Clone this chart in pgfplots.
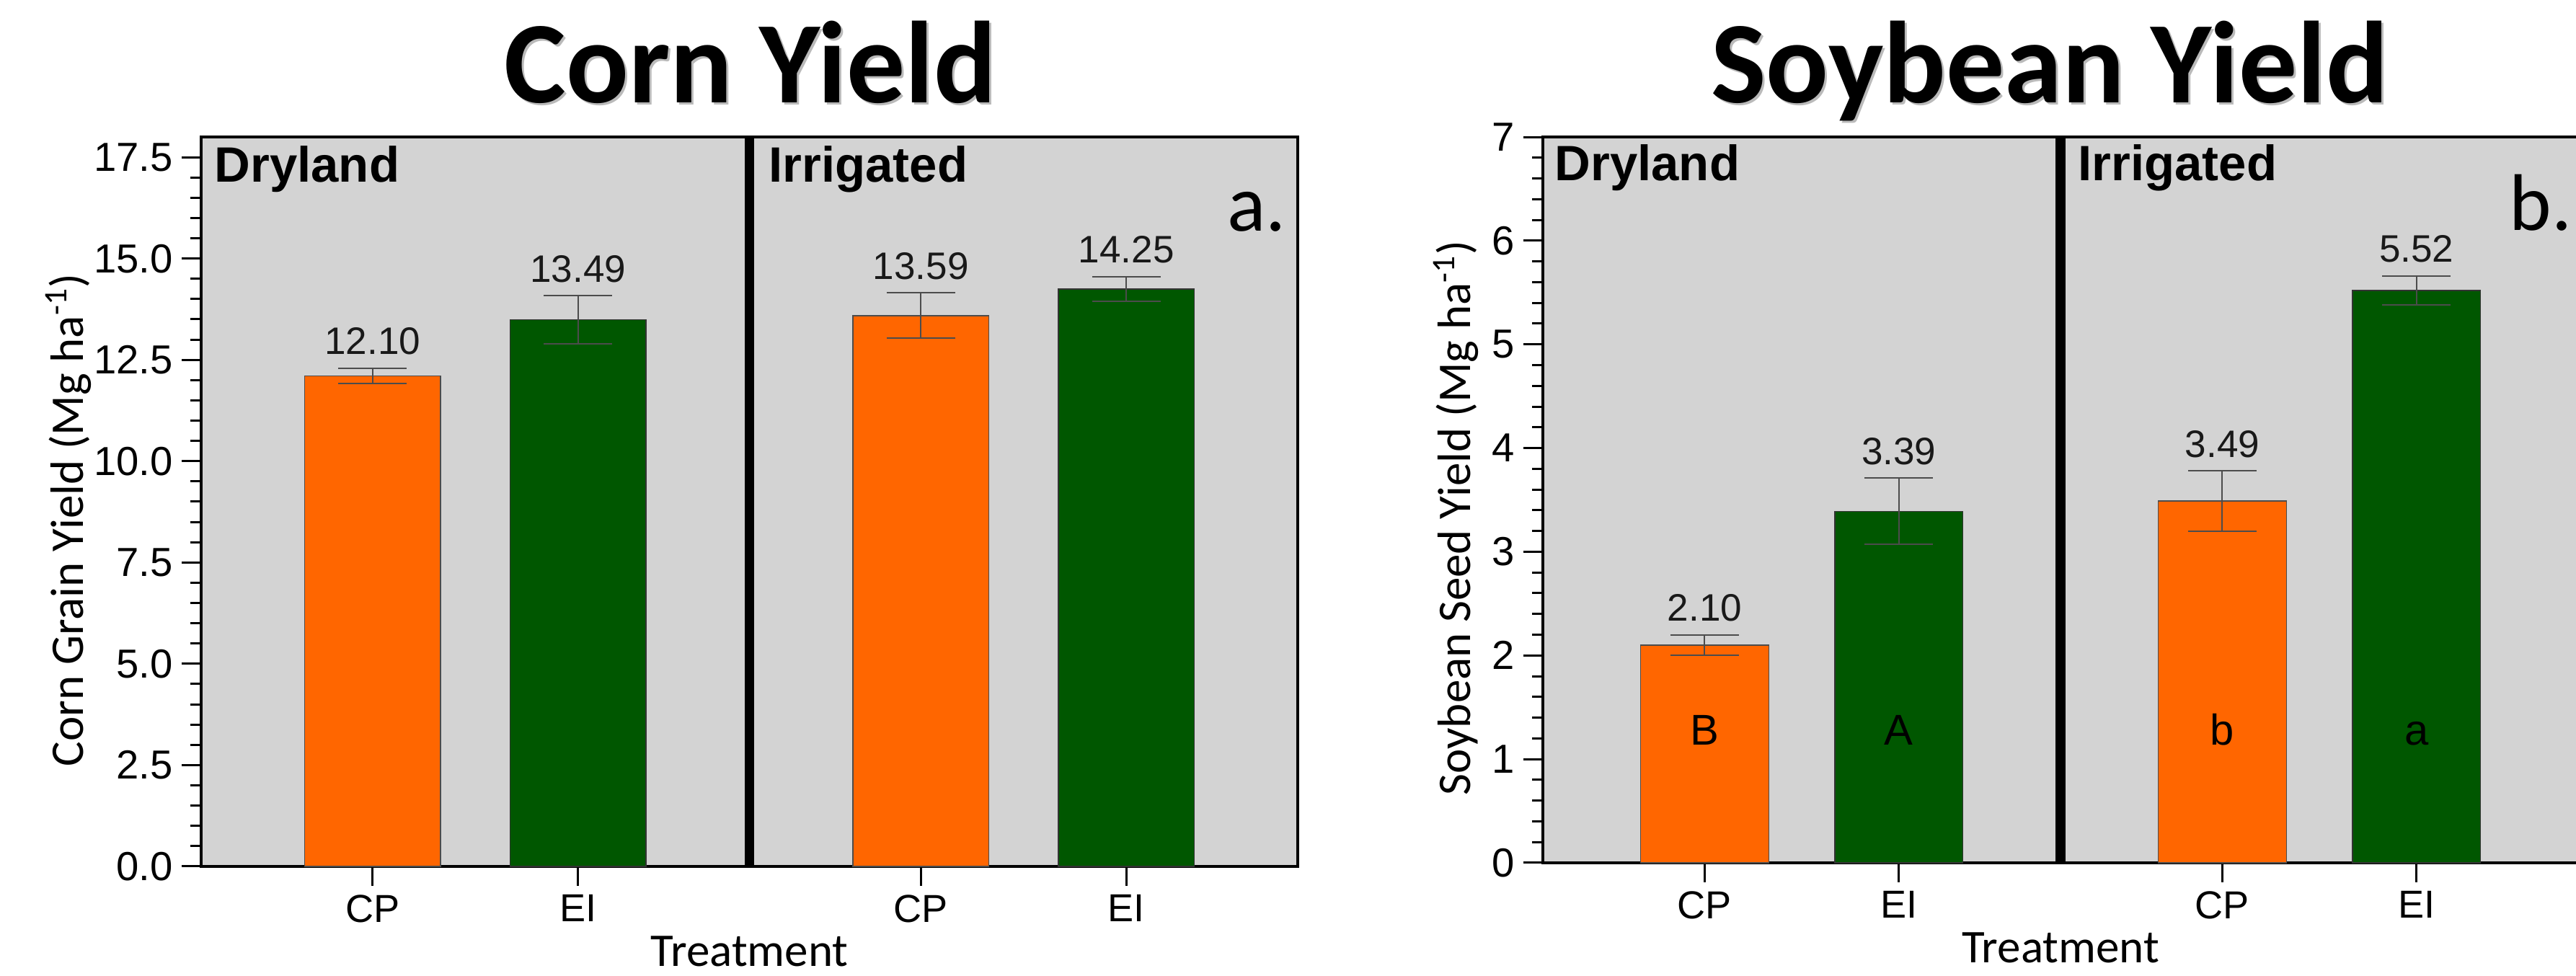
\documentclass[border=0pt]{standalone}
\usepackage{pgfplots}
\pgfplotsset{compat=1.18}
\usepackage{fontspec}
\setmainfont{Liberation Sans}
\newfontfamily\calfont{Carlito}

\definecolor{cporange}{RGB}{255,102,0}
\definecolor{eigreen}{RGB}{0,87,0}
\definecolor{panelgray}{RGB}{211,211,211}

\pgfplotsset{
  panel/.style={
    scale only axis, anchor=south west,
    xmin=0, xmax=2, ymin=0,
    axis background/.style={fill=panelgray},
    axis line style={line width=0.45mm, black},
    every tick/.style={line width=0.3mm, black},
    tick align=outside,
    major tick length=2.7mm,
    minor tick length=1.5mm,
    xtick={0.3125,0.6875,1.3125,1.6875},
    xticklabels={CP,EI,CP,EI},
    xtick pos=bottom, ytick pos=left,
    minor y tick num=4,
    xticklabel style={font=\fontsize{15.4}{18}\selectfont},
    yticklabel style={font=\fontsize{16}{18}\selectfont},
    /pgf/number format/assume math mode=true,
    bar width=0.2475,
    extra x ticks={1},
    extra x tick labels={},
    extra x tick style={major tick length=0pt, grid=major, major grid style={black, line width=1.33mm}},
    xlabel={Treatment},
    label style={font=\calfont\fontsize{18.5}{22}\selectfont},
    xlabel style={at={(axis description cs:0.5,0)}, anchor=base, inner sep=0pt, yshift=-13.9mm},
    clip=false,
  },
  cpbar/.style={ybar, bar shift=0pt, fill=cporange, draw=black!70, line width=0.15mm,
    error bars/.cd, y dir=both, y explicit,
    error bar style={line width=0.2mm, black!70},
    error mark options={rotate=90, line width=0.2mm, black!70, mark size=4.75mm}},
  eibar/.style={ybar, bar shift=0pt, fill=eigreen, draw=black!80, line width=0.15mm,
    error bars/.cd, y dir=both, y explicit,
    error bar style={line width=0.2mm, black!70},
    error mark options={rotate=90, line width=0.2mm, black!70, mark size=4.75mm}},
  vallabels/.style={draw=none, mark=none, nodes near coords, point meta=explicit symbolic,
    every node near coord/.append style={anchor=south, yshift=1.8mm, inner sep=0pt,
      font=\fontsize{15.1}{18}\selectfont, text=black!90}},
  letters/.style={draw=none, mark=none, nodes near coords, point meta=explicit symbolic,
    every node near coord/.append style={anchor=south, inner sep=0pt,
      font=\fontsize{17}{20}\selectfont, text=black}},
}

\begin{document}
\begin{tikzpicture}
\path[use as bounding box] (0,0) rectangle (357.3mm,135.4mm);
\clip (0,0) rectangle (357.3mm,135.4mm);

% Titles
\node[anchor=base, text=black!45, opacity=0.6, font=\calfont\bfseries\fontsize{46}{50}\selectfont] at (104.4mm,120.8mm) {Corn Yield};
\node[anchor=base, font=\calfont\bfseries\fontsize{46}{50}\selectfont] at (104.1mm,121.1mm) {Corn Yield};
\node[anchor=base, text=black!45, opacity=0.6, font=\calfont\bfseries\fontsize{46}{50}\selectfont] at (284.6mm,120.8mm) {Soybean Yield};
\node[anchor=base, font=\calfont\bfseries\fontsize{46}{50}\selectfont] at (284.3mm,121.1mm) {Soybean Yield};

% Corn panel
\begin{axis}[panel,
  at={(27.9mm,15.2mm)}, width=152.1mm, height=101.2mm,
  ymax=18, ytick={0,2.5,5,7.5,10,12.5,15,17.5},
  yticklabel style={/pgf/number format/.cd, fixed, fixed zerofill, precision=1},
  ylabel={Corn Grain Yield (Mg ha\textsuperscript{-1})},
  ylabel style={at={(axis description cs:-0.121,0.475)}, anchor=center},
]
\addplot[cpbar] coordinates {(0.3125,12.10) +- (0,0.19) (1.3125,13.59) +- (0,0.56)};
\addplot[eibar] coordinates {(0.6875,13.49) +- (0,0.59) (1.6875,14.25) +- (0,0.30)};
\addplot[vallabels] coordinates {(0.3125,12.29)[12.10] (0.6875,14.08)[13.49] (1.3125,14.15)[13.59] (1.6875,14.55)[14.25]};
\node[anchor=base west, inner sep=0pt, font=\bfseries\fontsize{19.6}{22}\selectfont] at (axis description cs:0.0118,0.9387) {Dryland};
\node[anchor=base west, inner sep=0pt, font=\bfseries\fontsize{19.6}{22}\selectfont] at (axis description cs:0.5174,0.9387) {Irrigated};
\node[anchor=base east, inner sep=0pt, font=\calfont\fontsize{31.7}{34}\selectfont] at (axis description cs:0.990,0.8715) {a.};
\end{axis}

% Soybean panel
\begin{axis}[panel,
  at={(214.0mm,15.7mm)}, width=143.6mm, height=100.7mm,
  ymax=7, ytick={0,1,2,3,4,5,6,7},
  ylabel={Soybean Seed Yield (Mg ha\textsuperscript{-1})},
  ylabel style={at={(axis description cs:-0.0839,0.475)}, anchor=center},
]
\addplot[cpbar] coordinates {(0.3125,2.10) +- (0,0.10) (1.3125,3.49) +- (0,0.29)};
\addplot[eibar] coordinates {(0.6875,3.39) +- (0,0.32) (1.6875,5.52) +- (0,0.14)};
\addplot[vallabels] coordinates {(0.3125,2.20)[2.10] (0.6875,3.71)[3.39] (1.3125,3.78)[3.49] (1.6875,5.66)[5.52]};
\addplot[letters] coordinates {(0.3125,1.13)[B] (0.6875,1.13)[A] (1.3125,1.13)[b] (1.6875,1.13)[a]};
\node[anchor=base west, inner sep=0pt, font=\bfseries\fontsize{19.6}{22}\selectfont] at (axis description cs:0.0111,0.9404) {Dryland};
\node[anchor=base west, inner sep=0pt, font=\bfseries\fontsize{19.6}{22}\selectfont] at (axis description cs:0.5167,0.9404) {Irrigated};
\node[anchor=base east, inner sep=0pt, font=\calfont\fontsize{31.7}{34}\selectfont] at (axis description cs:0.9944,0.871) {b.};
\end{axis}
\end{tikzpicture}
\end{document}
